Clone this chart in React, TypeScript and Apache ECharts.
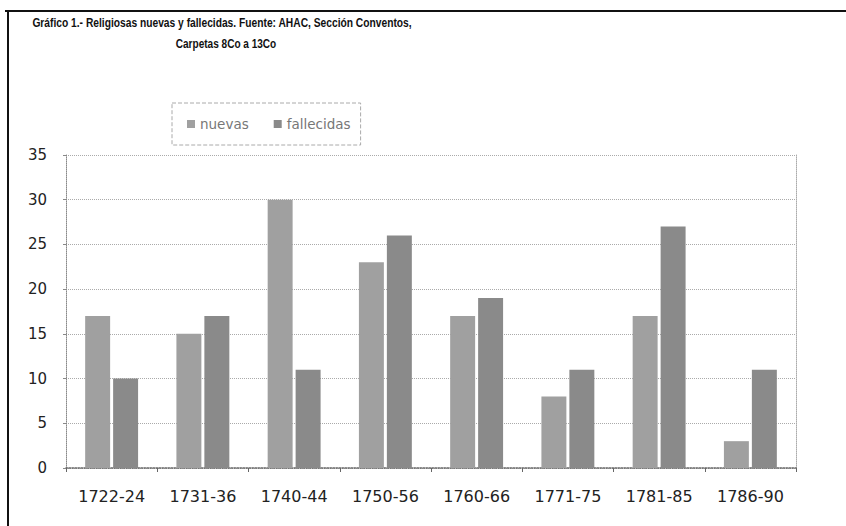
import React, { useEffect, useRef } from "react";
import * as echarts from "echarts";

const categories = ["1722-24", "1731-36", "1740-44", "1750-56", "1760-66", "1771-75", "1781-85", "1786-90"];
const nuevas = [17, 15, 30, 23, 17, 8, 17, 3];
const fallecidas = [10, 17, 11, 26, 19, 11, 27, 11];
const titleLine1 = "Gráfico 1.- Religiosas nuevas y fallecidas. Fuente: AHAC, Sección Conventos,";
const titleLine2 = "Carpetas 8Co a 13Co";

export default function App() {
  const ref = useRef<HTMLDivElement>(null);
  useEffect(() => {
    if (!ref.current) return;
    const chart = echarts.init(ref.current, null, { renderer: "svg" });
    const axisFont = { fontFamily: "DejaVu Sans", color: "#222" };
    const titleFont = "bold 13.5px 'Liberation Sans', Arial, sans-serif";
    chart.setOption({
      animation: false,
      backgroundColor: "#fff",
      graphic: [
        { type: "line", shape: { x1: 5, y1: 11, x2: 846, y2: 11 }, style: { stroke: "#111", lineWidth: 2 } },
        { type: "line", shape: { x1: 8, y1: 11, x2: 8, y2: 526 }, style: { stroke: "#111", lineWidth: 2 } },
        {
          type: "text", x: 222, y: 22, scaleX: 0.76,
          style: { text: titleLine1, font: titleFont, fill: "#111", align: "center", verticalAlign: "middle" },
        },
        {
          type: "text", x: 226, y: 43, scaleX: 0.745,
          style: { text: titleLine2, font: titleFont, fill: "#111", align: "center", verticalAlign: "middle" },
        },
      ],
      legend: {
        left: 172,
        top: 103,
        padding: [14, 10, 14, 15],
        itemWidth: 8,
        itemHeight: 8,
        itemGap: 25,
        icon: "rect",
        borderColor: "#aaa",
        borderWidth: 1,
        borderType: "dashed",
        textStyle: { fontFamily: "DejaVu Sans", fontSize: 13.5, color: "#777" },
        data: ["nuevas", "fallecidas"],
      },
      grid: { left: 66, right: 50, top: 155, bottom: 58 },
      xAxis: {
        type: "category",
        data: categories,
        axisLine: { lineStyle: { color: "#666", type: "dotted", width: 1.5 } },
        axisTick: { show: true, length: 4, lineStyle: { color: "#666" } },
        axisLabel: { ...axisFont, fontSize: 16, margin: 20 },
      },
      yAxis: [
        {
          type: "value",
          min: 0,
          max: 35,
          interval: 5,
          axisLine: { show: true, lineStyle: { color: "#888", type: "dotted" } },
          axisTick: { show: true, length: 3, lineStyle: { color: "#888" } },
          axisLabel: { ...axisFont, fontSize: 15, margin: 19 },
          splitLine: { show: true, lineStyle: { color: "#aaa", type: "dotted" } },
        },
        {
          type: "value",
          min: 0,
          max: 35,
          interval: 5,
          position: "right",
          axisLine: { show: true, lineStyle: { color: "#aaa", type: "dotted" } },
          axisTick: { show: false },
          axisLabel: { show: false },
          splitLine: { show: false },
        },
      ],
      series: [
        {
          name: "nuevas",
          type: "bar",
          data: nuevas,
          barGap: "12%",
          barCategoryGap: "42%",
          itemStyle: { color: "#a0a0a0" },
        },
        {
          name: "fallecidas",
          type: "bar",
          data: fallecidas,
          barGap: "12%",
          barCategoryGap: "42%",
          itemStyle: { color: "#8a8a8a" },
        },
      ],
    });
    return () => chart.dispose();
  }, []);
  return <div ref={ref} style={{ width: 846, height: 526, position: "absolute", left: 0, top: 0 }} />;
}
